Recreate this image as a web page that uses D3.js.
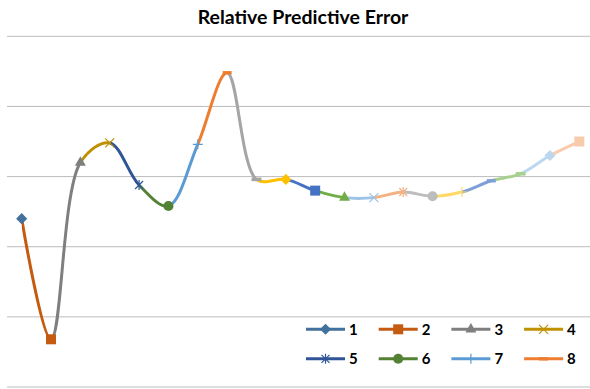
<!DOCTYPE html>
<html>
<head>
<meta charset="utf-8">
<script src="https://cdn.jsdelivr.net/npm/d3@7"></script>
<style>
  html, body { margin: 0; padding: 0; background: #fff; }
  svg { display: block; }
</style>
</head>
<body>
<svg id="chart" width="590" height="389"></svg>
<script>
// Relative predictive error for each of 20 runs (smoothed line, one colour per point)
const runs = d3.range(1, 21);
const errors = [1.20, 0.34, 1.60, 1.74, 1.44, 1.29, 1.73, 2.24, 1.48, 1.48,
                1.40, 1.35, 1.35, 1.39, 1.36, 1.39, 1.47, 1.52, 1.65, 1.75];
const gridTicks = [0, 0.5, 1.0, 1.5, 2.0, 2.5];
const legendItems = ["1", "2", "3", "4", "5", "6", "7", "8"];

// Per-point colours and marker shapes (automatic "vary colours by point" cycle)
const pointColors = [
  "#41719C", "#C55A11", "#7F7F7F", "#BF9000", "#2F5597", "#548235",
  "#5B9BD5", "#ED7D31", "#A5A5A5", "#FFC000", "#4472C4", "#70AD47",
  "#9DC3E6", "#F4B183", "#BDBDBD", "#FFD966", "#7F9FD8", "#A9D18E",
  "#BDD7EE", "#F8CBAD"
];
const markerCycle = ["diamond", "square", "triangle", "x", "star", "circle", "plus", "dash", "longdash"];

const svg = d3.select("#chart");
const W = 590, H = 389;

const x = d3.scaleBand().domain(runs).range([7, 594]);
const y = d3.scaleLinear().domain([0, 2.5]).range([387, 36.3]);
const cx = r => x(r) + x.bandwidth() / 2;

// Title
svg.append("text")
  .attr("x", 303).attr("y", 24)
  .attr("text-anchor", "middle")
  .attr("font-family", "Lato, 'Open Sans', sans-serif")
  .attr("font-weight", "bold")
  .attr("font-size", 19.5)
  .attr("fill", "#000")
  .text("Relative Predictive Error");

// Horizontal gridlines
svg.append("g").selectAll("line")
  .data(gridTicks)
  .join("line")
  .attr("x1", x.range()[0]).attr("x2", x.range()[1])
  .attr("y1", d => y(d)).attr("y2", d => y(d))
  .attr("stroke", "#BCBCBC")
  .attr("stroke-width", 1);

const data = runs.map((r, i) => ({ run: r, value: errors[i], color: pointColors[i], marker: markerCycle[i % markerCycle.length] }));

const line = d3.line()
  .x(d => cx(d.run))
  .y(d => y(d.value))
  .curve(d3.curveCatmullRom.alpha(0.5));
const fullPath = line(data);

// Each segment of the smoothed line takes the colour of the point it leads to
const defs = svg.append("defs");
const segs = svg.append("g");
data.forEach((d, i) => {
  if (i === 0) return;
  const id = "seg" + i;
  const x0 = cx(data[i - 1].run), x1 = cx(d.run);
  defs.append("clipPath").attr("id", id)
    .append("rect")
    .attr("x", x0).attr("y", 0)
    .attr("width", x1 - x0).attr("height", H);
  segs.append("path")
    .attr("d", fullPath)
    .attr("clip-path", `url(#${id})`)
    .attr("fill", "none")
    .attr("stroke", d.color)
    .attr("stroke-width", 3)
    .attr("stroke-linejoin", "round");
});

// Marker drawing
function drawMarker(g, type, color) {
  const thin = 1.2;
  switch (type) {
    case "diamond":
      g.append("path").attr("d", d3.symbol(d3.symbolSquare, 62)()).attr("transform", "rotate(45)")
        .attr("fill", color);
      break;
    case "square":
      g.append("path").attr("d", d3.symbol(d3.symbolSquare, 100)()).attr("fill", color);
      break;
    case "triangle":
      g.append("path").attr("d", d3.symbol(d3.symbolTriangle, 52)()).attr("fill", color);
      break;
    case "circle":
      g.append("path").attr("d", d3.symbol(d3.symbolCircle, 80)()).attr("fill", color);
      break;
    case "x":
      g.append("path").attr("d", "M-4.5,-4.5L4.5,4.5M-4.5,4.5L4.5,-4.5")
        .attr("stroke", color).attr("stroke-width", thin).attr("fill", "none");
      break;
    case "star":
      g.append("path").attr("d", "M-4,-4L4,4M-4,4L4,-4M0,-5L0,5")
        .attr("stroke", color).attr("stroke-width", thin).attr("fill", "none");
      break;
    case "plus":
      g.append("path").attr("d", "M-5,0L5,0M0,-5L0,5")
        .attr("stroke", color).attr("stroke-width", thin).attr("fill", "none");
      break;
    case "dash":
      g.append("rect").attr("x", -4.5).attr("y", -1.7).attr("width", 9).attr("height", 3.4).attr("fill", color);
      break;
    case "longdash":
      g.append("rect").attr("x", -5).attr("y", -1.8).attr("width", 10).attr("height", 3.6).attr("fill", color);
      break;
  }
}

const marks = svg.append("g");
data.forEach(d => {
  const g = marks.append("g").attr("transform", `translate(${cx(d.run)},${y(d.value)})`);
  drawMarker(g, d.marker, d.color);
});

// Legend: two rows of four
const legend = svg.append("g");
legendItems.forEach((label, i) => {
  const col = i % 4, row = Math.floor(i / 4);
  const lx = 306 + col * 72.7, ly = 329.3 + row * 29.5;
  const g = legend.append("g").attr("transform", `translate(${lx},${ly})`);
  g.append("line").attr("x1", 0).attr("x2", 39).attr("y1", 0).attr("y2", 0)
    .attr("stroke", pointColors[i]).attr("stroke-width", 3);
  const m = g.append("g").attr("transform", "translate(19.5,0)");
  drawMarker(m, markerCycle[i], pointColors[i]);
  g.append("text")
    .attr("x", 43).attr("y", 5.5)
    .attr("font-family", "Lato, 'Open Sans', sans-serif")
    .attr("font-weight", "bold")
    .attr("font-size", 15)
    .attr("fill", "#000")
    .text(label);
});
</script>
</body>
</html>
